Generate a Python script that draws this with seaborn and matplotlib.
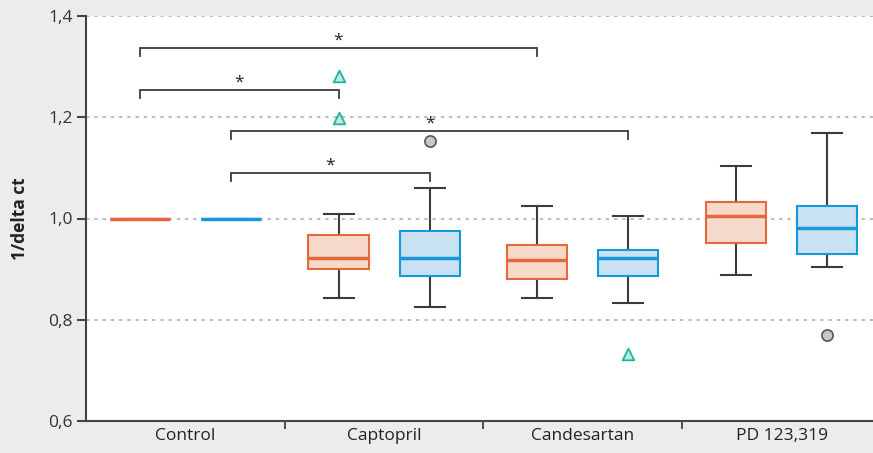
import numpy as np
import pandas as pd
import matplotlib
matplotlib.use("Agg")
import matplotlib.pyplot as plt
import seaborn as sns

# ---------------- data ----------------
groups = ["Control", "Captopril", "Candesartan", "PD 123,319"]
series = ["Series A", "Series B"]

# five-number summaries (lower whisker, Q1, median, Q3, upper whisker)
orange_control = [1.000, 1.000, 1.000, 1.000, 1.000]
orange_captopril = [0.843, 0.900, 0.922, 0.967, 1.009]
orange_candesartan = [0.842, 0.880, 0.919, 0.948, 1.025]
orange_pd = [0.888, 0.951, 1.004, 1.032, 1.104]

blue_control = [1.000, 1.000, 1.000, 1.000, 1.000]
blue_captopril = [0.826, 0.886, 0.922, 0.975, 1.061]
blue_candesartan = [0.834, 0.886, 0.921, 0.937, 1.005]
blue_pd = [0.904, 0.930, 0.981, 1.025, 1.168]

# outliers
extreme_group = ["Captopril", "Captopril", "Candesartan"]
extreme_series = ["Series A", "Series A", "Series B"]
extreme_value = [1.281, 1.199, 0.732]

mild_group = ["Captopril", "PD 123,319"]
mild_series = ["Series B", "Series B"]
mild_value = [1.153, 0.770]

# significance brackets: (group, series) -> (group, series), height
br_from_group = ["Control", "Control", "Control", "Control"]
br_from_series = ["Series A", "Series A", "Series B", "Series B"]
br_to_group = ["Candesartan", "Captopril", "Candesartan", "Captopril"]
br_to_series = ["Series A", "Series A", "Series B", "Series B"]
br_height = [1.337, 1.254, 1.173, 1.090]
br_label = ["*", "*", "*", "*"]

ytick_vals = [0.6, 0.8, 1.0, 1.2, 1.4]
ytick_labels = ["0,6", "0,8", "1,0", "1,2", "1,4"]

# ---------------- styles ----------------
fill_colors = {"Series A": "#f6d9c8", "Series B": "#c8e2f4"}
edge_colors = {"Series A": "#e2693e", "Series B": "#1898da"}
dark = "#3c3c3c"
bg = "#ebecec"

rows = []
for s, arrs in zip(series, [[orange_control, orange_captopril, orange_candesartan, orange_pd],
                            [blue_control, blue_captopril, blue_candesartan, blue_pd]]):
    for g, vals in zip(groups, arrs):
        for v in vals:
            rows.append({"group": g, "series": s, "value": v})
df = pd.DataFrame(rows)

plt.rcParams["font.family"] = ["Open Sans", "DejaVu Sans"]

fig = plt.figure(figsize=(8.73, 4.53), dpi=100, facecolor=bg)
ax = fig.add_axes([86 / 873, 1 - 421 / 453, 787 / 873, 405 / 453])
ax.set_facecolor("white")

WIDTH = 0.917
GAP = 0.34
for s in series:
    sub = df[df["series"] == s]
    sns.boxplot(data=sub, x="group", y="value", hue="series", hue_order=series,
                order=groups, palette=fill_colors, saturation=1, width=WIDTH, gap=GAP,
                dodge=True, whis=(0, 100), legend=False, ax=ax, linewidth=1.5,
                boxprops=dict(edgecolor=edge_colors[s], zorder=3),
                medianprops=dict(color=edge_colors[s], linewidth=2.5, zorder=4),
                whiskerprops=dict(color=dark, linewidth=1.5, zorder=2),
                capprops=dict(color=dark, linewidth=1.5, zorder=2),
                showfliers=False)

offset = {"Series A": -WIDTH / 4, "Series B": WIDTH / 4}
gidx = {g: i for i, g in enumerate(groups)}

def xpos(g, s):
    return gidx[g] + offset[s]

ax.scatter([xpos(g, s) for g, s in zip(extreme_group, extreme_series)], extreme_value,
           marker="^", s=70, facecolor="#bfe9e1", edgecolor="#1fb4a0", linewidth=1.3, zorder=5)
ax.scatter([xpos(g, s) for g, s in zip(mild_group, mild_series)], mild_value,
           marker="o", s=65, facecolor="#c8c8c8", edgecolor="#555555", linewidth=1.2, zorder=5)

tick_drop = 0.016
for fg, fs, tg, ts, h, lab in zip(br_from_group, br_from_series, br_to_group, br_to_series,
                                  br_height, br_label):
    x0, x1 = xpos(fg, fs), xpos(tg, ts)
    ax.plot([x0, x0, x1, x1], [h - tick_drop, h, h, h - tick_drop], color=dark,
            lw=1.3, solid_joinstyle="miter", zorder=3)
    ax.text((x0 + x1) / 2, h - 0.002, lab, ha="center", va="bottom", fontsize=12.5, color="#222222")

ax.set_xlim(-0.5, 3.46)
ax.set_ylim(0.6, 1.4)
ax.set_yticks(ytick_vals)
ax.set_yticklabels(ytick_labels)
for y in ytick_vals[1:]:
    ax.axhline(y, color="#aaaaaa", lw=1.1, linestyle=(0, (2.2, 3.2)), zorder=0)

ax.set_xticks(range(len(groups)))
ax.set_xticklabels(groups)
ax.set_xticks([0.5, 1.5, 2.5], minor=True)
ax.tick_params(axis="x", which="major", length=0, pad=5, labelsize=12.5, labelcolor="#222222")
ax.tick_params(axis="x", which="minor", length=6, width=1.3, color="#444444", direction="out")
ax.tick_params(axis="y", length=6.5, width=1.5, color="#444444", labelsize=12.5,
               labelcolor="#333333", pad=3)

for sp in ["top", "right"]:
    ax.spines[sp].set_visible(False)
for sp in ["left", "bottom"]:
    ax.spines[sp].set_color("#444444")
    ax.spines[sp].set_linewidth(1.5)

ax.set_xlabel("")
ax.set_ylabel("1/delta ct", fontsize=12.5, fontweight="bold", color="#222222")
ax.yaxis.set_label_coords(-0.072, 0.5)

fig.savefig("out.png", dpi=100, facecolor=bg)
